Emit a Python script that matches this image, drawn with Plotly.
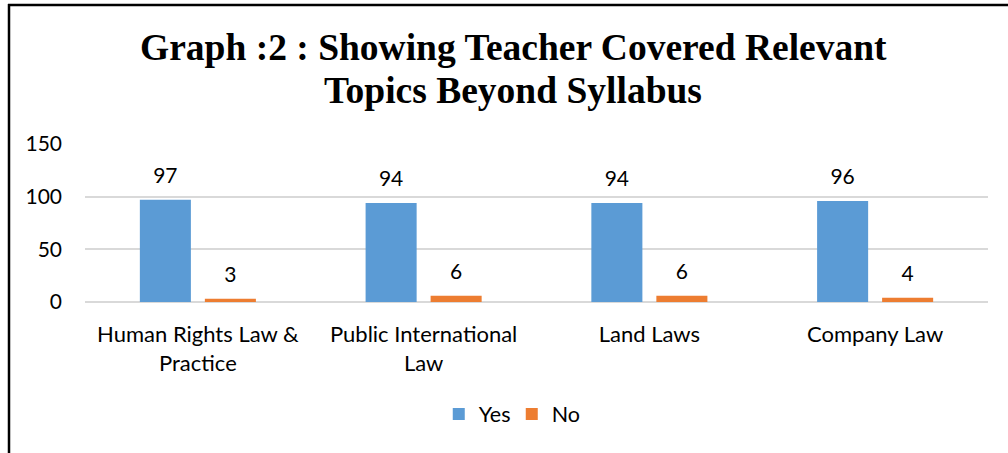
import plotly.graph_objects as go

categories = ["Human Rights Law &<br>Practice", "Public International<br>Law", "Land Laws", "Company Law"]
yes_values = [97, 94, 94, 96]
no_values = [3, 6, 6, 4]
y_ticks = [0, 50, 100, 150]
title_lines = ["<b>Graph :2 : Showing Teacher Covered Relevant</b>", "<b>Topics Beyond Syllabus</b>"]

W, H = 1008, 453
L, R, T, B = 85, 20, 144, 151
pw, ph = W - L - R, H - T - B

def px_x(x):
    return (x - L) / pw

def px_y(y):
    return (H - B - y) / ph

font = "Lato, Calibri, Carlito, sans-serif"
serif = "Liberation Serif, Times New Roman, serif"
YES_C, NO_C = "#5B9BD5", "#ED7D31"

fig = go.Figure()
fig.add_trace(go.Bar(name="Yes", x=categories, y=yes_values, marker_color=YES_C, marker_line_width=0))
fig.add_trace(go.Bar(name="No", x=categories, y=no_values, marker_color=NO_C, marker_line_width=0))
# data labels
for vals in (yes_values, no_values):
    fig.add_trace(go.Scatter(x=categories, y=vals, mode="markers+text", text=[str(v) for v in vals],
                             textposition="top center", cliponaxis=False, showlegend=False,
                             hoverinfo="skip", marker=dict(size=17, opacity=0),
                             textfont=dict(size=21, color="#000000", family=font)))

annotations = []
for i, line in enumerate(title_lines):
    annotations.append(dict(text=line, xref="paper", yref="paper", x=px_x(513), y=px_y(47 + 43 * i),
                            xanchor="center", yanchor="middle", showarrow=False,
                            font=dict(family=serif, size=37.5, color="#000000")))

fig.update_layout(
    width=W, height=H,
    margin=dict(l=L, r=R, t=T, b=B),
    barmode="group", bargap=0.424, bargroupgap=0.215,
    scattermode="group", scattergap=0.424,
    plot_bgcolor="white", paper_bgcolor="white",
    font=dict(family=font, size=21, color="#000000"),
    annotations=annotations,
    xaxis=dict(showgrid=False, showline=False, ticks="", tickfont=dict(size=22), ticklabelstandoff=17),
    yaxis=dict(range=[0, 150], tickvals=y_ticks, showgrid=True, gridcolor="#D9D9D9", gridwidth=2,
               zeroline=True, zerolinecolor="#D9D9D9", zerolinewidth=2, ticks="", ticklabelstandoff=22,
               tickfont=dict(size=21)),
    legend=dict(orientation="h", x=0.4726, xanchor="center", y=px_y(414), yanchor="middle",
                font=dict(size=21.5), itemwidth=30, entrywidth=28, traceorder="normal"),
    showlegend=True,
    shapes=[
        dict(type="line", xref="paper", yref="paper", x0=px_x(9), x1=px_x(9), y0=px_y(4), y1=px_y(460),
             line=dict(color="black", width=2.5)),
        dict(type="line", xref="paper", yref="paper", x0=px_x(8), x1=px_x(1010), y0=px_y(5), y1=px_y(5),
             line=dict(color="black", width=2.5)),
    ],
)

fig.write_html("out.html", config={"displayModeBar": False},
               post_script="document.body.style.margin='0';document.body.style.overflow='hidden';")
